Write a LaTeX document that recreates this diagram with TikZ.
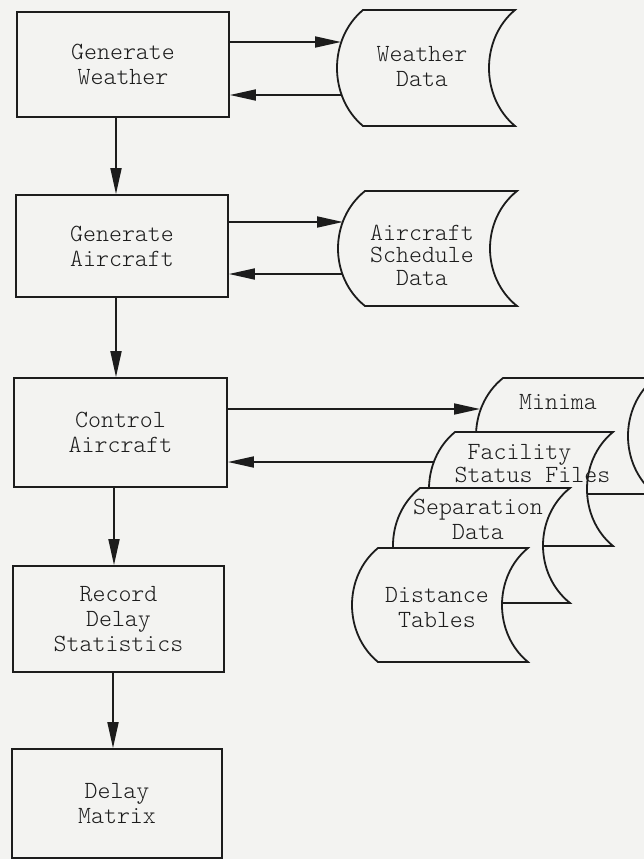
\documentclass[tikz,border=0pt]{standalone}
\usepackage{fontspec}
\usetikzlibrary{arrows.meta}
\definecolor{paper}{RGB}{243,243,241}
\definecolor{ink}{RGB}{28,28,28}

% stored-data outline: top-left corner (#1,#2), width #3, height #4, bulge #5
\newcommand{\datastore}[5]{%
  \pgfmathsetmacro\storebend{4/3*#5}%
  \draw[storeline] (#1,#2) -- ++(#3,0)
    .. controls +(-\storebend,#4/4) and +(-\storebend,-#4/4) .. ++(0,#4)
    -- ++(-#3,0)
    .. controls +(-\storebend,-#4/4) and +(-\storebend,#4/4) .. ++(0,-#4)
    -- cycle;}

\newcommand{\typefont}[1]{\fontseries{l}\ttfamily\fontsize{24.7}{#1}\selectfont}

\begin{document}
\begin{tikzpicture}[x=1pt,y=-1pt,
  every node/.style={font=\typefont{25}, text=ink},
  procbox/.style={draw=ink, line width=1.8pt, rectangle, align=center, inner sep=0pt},
  storetext/.style={align=center, inner sep=0pt},
  flow/.style={draw=ink, line width=1.8pt, -{Triangle[length=26pt,width=11pt]}},
  storeline/.style={draw=ink, line width=1.8pt, fill=paper, line join=miter}
]
\useasboundingbox (0,0) rectangle (644,859);
\clip (0,0) rectangle (644,859);
\fill[paper] (0,0) rectangle (644,859);

% process boxes
\node[procbox, minimum width=212pt, minimum height=105pt] (gw)  at (123,64.5)  {Generate\\Weather};
\node[procbox, minimum width=212pt, minimum height=102pt] (ga)  at (122,246)   {Generate\\Aircraft};
\node[procbox, minimum width=213pt, minimum height=109pt] (ca)  at (120.5,432.5) {Control\\Aircraft};
\node[procbox, minimum width=211pt, minimum height=106pt] (rds) at (118.5,619)  {Record\\Delay\\Statistics};
\node[procbox, minimum width=210pt, minimum height=109pt] (dm)  at (117,803.5)  {Delay\\Matrix};

% data stores
\datastore{363}{10}{152}{116}{26}
\node[storetext] (wd) at (422,67) {Weather\\Data};

\datastore{365}{191}{152}{115}{27}
\node[storetext, font=\typefont{22.5}] (asd) at (422,255) {Aircraft\\Schedule\\Data};

\datastore{503}{378}{152}{116}{27}
\node[storetext] (mi) at (558,402) {Minima};

\datastore{455}{432}{158}{114}{26}
\node[storetext, align=left, font=\typefont{23}] (fsf) at (532.5,463.5) {\hphantom{x}Facility\\Status Files};

\datastore{420}{488}{150}{115}{27}
\node[storetext] (sd) at (478,519.5) {Separation\\Data};

\datastore{378}{548}{150}{114}{26}
\node[storetext] (dt) at (437,607.5) {Distance\\Tables};

% points where the data flows meet the stores
\coordinate (wdIn)  at (341,42);
\coordinate (wdOut) at (342,95);
\coordinate (asdIn)  at (343,222);
\coordinate (asdOut) at (343,274);
\coordinate (miIn)  at (480,409);
\coordinate (fsfOut) at (434,462);

% data flows between processes and stores
\draw[flow] (gw.east |- wdIn) -- (wdIn);
\draw[flow] (wdOut) -- (gw.east |- wdOut);
\draw[flow] (ga.east |- asdIn) -- (asdIn);
\draw[flow] (asdOut) -- (ga.east |- asdOut);
\draw[flow] (ca.east |- miIn) -- (miIn);
\draw[flow] (fsfOut) -- (ca.east |- fsfOut);

% control flow down the column
\draw[flow] ([xshift=-7pt]gw.south) -- ([xshift=-6pt]ga.north);
\draw[flow] ([xshift=-6pt]ga.south) -- ([xshift=-4.5pt]ca.north);
\draw[flow] ([xshift=-6.5pt]ca.south) -- ([xshift=-4.5pt]rds.north);
\draw[flow] ([xshift=-5.5pt]rds.south) -- ([xshift=-4pt]dm.north);
\end{tikzpicture}
\end{document}
